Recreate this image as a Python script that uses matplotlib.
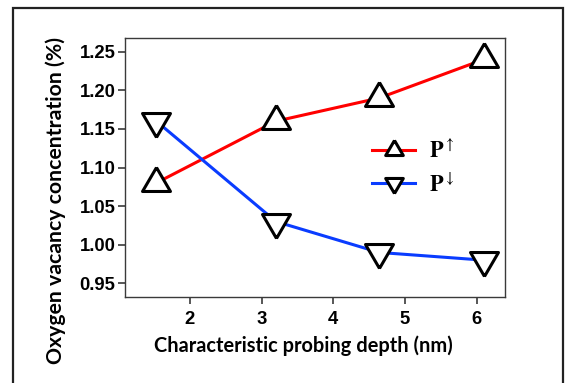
import matplotlib
matplotlib.use('Agg')
import numpy as np
from matplotlib import pyplot as plt
from matplotlib.patches import Rectangle

depth = [1.53, 3.2, 4.64, 6.1]
p_up = [1.08, 1.16, 1.19, 1.24]
p_down = [1.16, 1.03, 0.99, 0.98]
labels = [r'$\mathbf{P}^{\uparrow}$', r'$\mathbf{P}^{\downarrow}$']

plt.rcParams['mathtext.fontset'] = 'stix'

# triangles centred on their centroid, like the original software draws them
tri_up = [(0, 16), (-14, -8), (14, -8), (0, 16)]
tri_down = [(0, -16), (-14, 8), (14, 8), (0, -16)]

fig = plt.figure(figsize=(5.67, 3.83), dpi=100)
ax = fig.add_axes([125/567, 1 - 297/383, 380/567, 259/383])

ax.plot(depth, p_up, color='#ff0000', lw=2.2, marker=tri_up, ms=23,
        mfc='white', mec='black', mew=2.2, label=labels[0])
ax.plot(depth, p_down, color='#0a3cff', lw=2.2, marker=tri_down, ms=23,
        mfc='white', mec='black', mew=2.2, label=labels[1])

ax.set_xlim(1.0934, 6.395)
ax.set_ylim(0.9323, 1.2677)
ax.set_xticks([2, 3, 4, 5, 6])
ax.set_yticks(np.arange(0.95, 1.26, 0.05))
ax.set_yticklabels(['%.2f' % v for v in np.arange(0.95, 1.26, 0.05)])

for s in ax.spines.values():
    s.set_color('#3a3a3a')
    s.set_linewidth(1.0)
ax.tick_params(direction='out', length=5, width=1.2, color='#3a3a3a', pad=2)
for t in ax.get_xticklabels() + ax.get_yticklabels():
    t.set_fontfamily('Liberation Sans')
    t.set_fontweight('bold')
    t.set_fontsize(13.3)
ax.tick_params(axis='x', pad=5)

fig.text(303/567, 1 - 346/383, 'Characteristic probing depth (nm)', ha='center', va='center',
         family='Lato', weight='bold', fontsize=14.4)
fig.text(56/567, 1 - 200/383, 'Oxygen vacancy concentration (%)', ha='center', va='center',
         rotation=90, family='Lato', weight='bold', fontsize=15.3)

ax.legend(loc='upper left', bbox_to_anchor=(372/567, 1 - 138/383), bbox_transform=fig.transFigure,
          frameon=False, fontsize=16, handlelength=1.95, handletextpad=0.6, labelspacing=0.45,
          markerscale=0.63, borderpad=0, borderaxespad=0)

fig.patches.append(Rectangle((13/567, -0.1), 550/567, 1.1 - 8/383, transform=fig.transFigure,
                             fill=False, edgecolor='#222222', lw=1.6))

plt.savefig('out.png', dpi=100)
